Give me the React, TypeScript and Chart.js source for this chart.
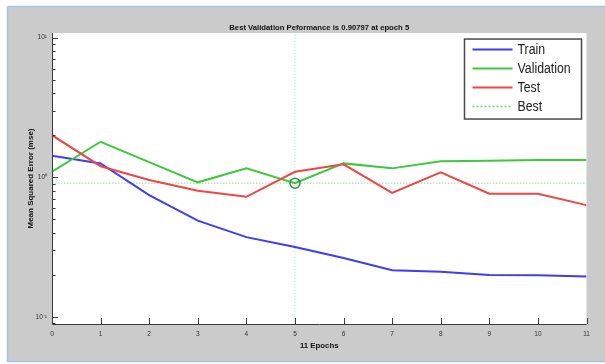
import React, { useEffect, useRef } from "react";
import { Chart, registerables } from "chart.js";

Chart.register(...registerables);

// ---- data ----
const epochs = [0, 1, 2, 3, 4, 5, 6, 7, 8, 9, 10, 11];
const trainMse = [1.425, 1.257, 0.746, 0.489, 0.373, 0.317, 0.264, 0.216, 0.211, 0.2, 0.199, 0.195];
const validationMse = [1.095, 1.795, 1.285, 0.92, 1.158, 0.908, 1.257, 1.158, 1.3, 1.312, 1.327, 1.327];
const testMse = [2.0, 1.2, 0.955, 0.8, 0.725, 1.095, 1.237, 0.774, 1.084, 0.762, 0.762, 0.632];
const bestEpoch = 5;
const bestPerf = 0.90797;
const yMin = 0.0891;
const yMax = 10.77;
const yTickValues = [0.1, 1, 10];
const yTickLabels = ["10\u207B\u00B9", "10\u2070", "10\u00B9"];
const legendLabels = ["Train", "Validation", "Test", "Best"];
const titleText = "Best Validation Peformance is 0.90797 at epoch 5";
const xTitle = "11 Epochs";
const yTitle = "Mean Squared Error (mse)";

// ---- styles ----
const FONT = "'Liberation Sans', Arial, sans-serif";
const trainColor = "#3d3df2";
const validColor = "#3cc93c";
const testColor = "#ef4545";
const bestColor = "#9ed49e";
const bestVColor = "#c3e0e8";
const legendStyles = [
  { color: trainColor, dash: [] as number[], width: 2 },
  { color: validColor, dash: [] as number[], width: 2 },
  { color: testColor, dash: [] as number[], width: 2 },
  { color: "#7cc87c", dash: [2, 2], width: 1.5 },
];

const framePlugin = {
  id: "matlabFrame",
  beforeDraw(chart: any) {
    const { ctx, width, height, chartArea: ca } = chart;
    ctx.save();
    ctx.fillStyle = "#ffffff";
    ctx.fillRect(0, 0, width, height);
    ctx.fillStyle = "#cbcbcb";
    ctx.fillRect(8, 7, width - 8, 354);
    ctx.strokeStyle = "#a9c4e6";
    ctx.lineWidth = 1.5;
    ctx.beginPath();
    ctx.moveTo(7.5, 6.5);
    ctx.lineTo(width, 6.5);
    ctx.moveTo(7.5, 6.5);
    ctx.lineTo(7.5, 362);
    ctx.moveTo(7.5, 361.5);
    ctx.lineTo(width, 361.5);
    ctx.stroke();
    ctx.fillStyle = "#ffffff";
    ctx.fillRect(ca.left, ca.top, ca.right - ca.left, ca.bottom - ca.top);
    ctx.restore();
  },
  afterDatasetsDraw(chart: any) {
    const { ctx, chartArea: ca, scales } = chart;
    const xs = scales.x;
    const ys = scales.y;
    ctx.save();
    ctx.strokeStyle = "#3a3a3a";
    ctx.lineWidth = 1;
    ctx.beginPath();
    ctx.moveTo(ca.left + 0.5, ca.top);
    ctx.lineTo(ca.left + 0.5, ca.bottom + 0.5);
    ctx.lineTo(ca.right, ca.bottom + 0.5);
    ctx.stroke();
    // x ticks
    ctx.beginPath();
    for (const e of epochs) {
      const px = Math.round(xs.getPixelForValue(e)) + 0.5;
      ctx.moveTo(px, ca.bottom);
      ctx.lineTo(px, ca.bottom - 6);
    }
    // y ticks (major + minor)
    for (let d = -2; d <= 1; d++) {
      for (let k = 1; k <= 9; k++) {
        const v = k * Math.pow(10, d);
        if (v < yMin || v > yMax) continue;
        const py = Math.round(ys.getPixelForValue(v)) + 0.5;
        ctx.moveTo(ca.left, py);
        ctx.lineTo(ca.left + (k === 1 ? 6 : 3.5), py);
      }
    }
    ctx.stroke();

    // legend box
    const lw = 117;
    const lh = 80;
    const lx = ca.right - 122;
    const ly = ca.top + 6;
    ctx.fillStyle = "#ffffff";
    ctx.fillRect(lx, ly, lw, lh);
    ctx.strokeStyle = "#4a4a4a";
    ctx.lineWidth = 1.5;
    ctx.strokeRect(lx, ly, lw, lh);
    legendLabels.forEach((label, i) => {
      const st = legendStyles[i];
      const y = ly + 10.5 + i * 19;
      ctx.strokeStyle = st.color;
      ctx.lineWidth = st.width;
      ctx.setLineDash(st.dash);
      ctx.beginPath();
      ctx.moveTo(lx + 8, y);
      ctx.lineTo(lx + 48, y);
      ctx.stroke();
      ctx.setLineDash([]);
      ctx.save();
      ctx.translate(lx + 53, y + 0.5);
      ctx.scale(0.88, 1);
      ctx.fillStyle = "#222";
      ctx.font = `14px ${FONT}`;
      ctx.textBaseline = "middle";
      ctx.fillText(label, 0, 0);
      ctx.restore();
    });
    ctx.restore();
  },
};

export default function App() {
  const ref = useRef<HTMLCanvasElement>(null);
  useEffect(() => {
    document.body.style.margin = "0";
    const pts = (arr: number[]) => epochs.map((e, i) => ({ x: e, y: arr[i] }));
    const chart = new Chart(ref.current as HTMLCanvasElement, {
      type: "line",
      data: {
        datasets: [
          {
            label: "Best epoch",
            data: [
              { x: bestEpoch, y: yMin },
              { x: bestEpoch, y: yMax },
            ],
            borderColor: bestVColor,
            borderWidth: 1,
            borderDash: [1.5, 1.5],
            pointRadius: 0,
            order: 5,
          },
          {
            label: "Best",
            data: [
              { x: epochs[0], y: bestPerf },
              { x: epochs[epochs.length - 1], y: bestPerf },
            ],
            borderColor: bestColor,
            borderWidth: 1,
            borderDash: [1.5, 1.5],
            pointRadius: 0,
            order: 4,
          },
          {
            label: "Train",
            data: pts(trainMse),
            borderColor: trainColor,
            borderWidth: 2,
            pointRadius: 0,
            order: 3,
          },
          {
            label: "Validation",
            data: pts(validationMse),
            borderColor: validColor,
            borderWidth: 2,
            pointRadius: 0,
            order: 2,
          },
          {
            label: "Test",
            data: pts(testMse),
            borderColor: testColor,
            borderWidth: 2,
            pointRadius: 0,
            order: 1,
          },
          {
            label: "Best point",
            data: [{ x: bestEpoch, y: bestPerf }],
            borderColor: "#2f8f3a",
            backgroundColor: "rgba(0,0,0,0)",
            borderWidth: 1.5,
            pointRadius: 5,
            showLine: false,
            order: 0,
          },
        ],
      },
      options: {
        animation: false,
        responsive: false,
        maintainAspectRatio: false,
        events: [],
        layout: { padding: { left: 8, right: 18.5, top: 7, bottom: 3 } },
        font: { family: FONT },
        plugins: {
          legend: { display: false },
          tooltip: { enabled: false },
          title: {
            display: true,
            text: titleText,
            fullSize: false,
            color: "#111",
            font: { family: FONT, size: 7.7, weight: "bold" },
            padding: { top: 16.4, bottom: 0.4 },
          },
        },
        scales: {
          x: {
            type: "linear",
            min: 0,
            max: 11,
            grid: { display: false, drawTicks: false },
            border: { display: false },
            ticks: {
              stepSize: 1,
              padding: 6,
              autoSkip: false,
              maxRotation: 0,
              color: "#333",
              font: { family: FONT, size: 6.5 },
            },
            title: {
              display: true,
              text: xTitle,
              color: "#111",
              font: { family: FONT, size: 7.8, weight: "bold" },
              padding: { top: 0, bottom: 10.7 },
            },
            afterFit: (s: any) => {
              s.height = 37;
            },
          },
          y: {
            type: "logarithmic",
            min: yMin,
            max: yMax,
            grid: { display: false, drawTicks: false },
            border: { display: false },
            afterBuildTicks: (s: any) => {
              s.ticks = yTickValues.map((v) => ({ value: v }));
            },
            ticks: {
              padding: 5,
              color: "#333",
              font: { family: FONT, size: 6.5 },
              callback: (v: any) => {
                const i = yTickValues.findIndex((t) => Math.abs(t - Number(v)) < t * 1e-6);
                return i >= 0 ? yTickLabels[i] : "";
              },
            },
            title: {
              display: true,
              text: yTitle,
              color: "#111",
              font: { family: FONT, size: 8, weight: "bold" },
              padding: { top: 17.9, bottom: 0 },
            },
            afterFit: (s: any) => {
              s.width = 44;
            },
          },
        },
      },
      plugins: [framePlugin],
    } as any);
    return () => chart.destroy();
  }, []);
  return (
    <div style={{ width: 605, height: 364 }}>
      <canvas ref={ref} width={605} height={364} style={{ display: "block" }} />
    </div>
  );
}
